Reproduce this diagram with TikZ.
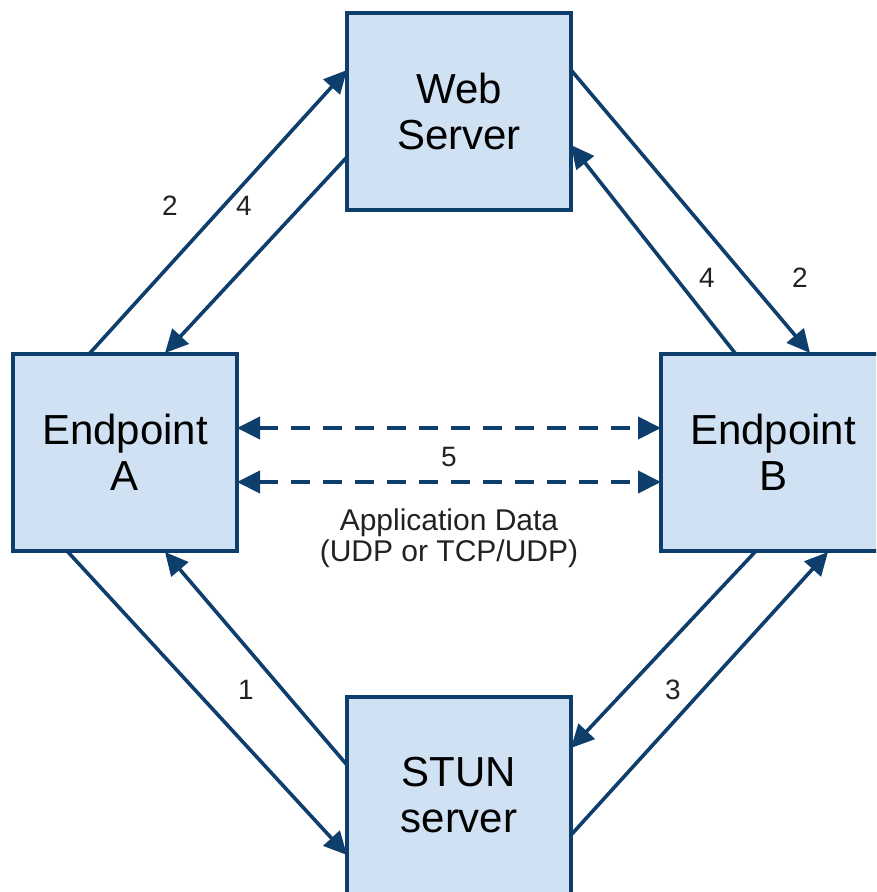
\documentclass[tikz,border=0pt]{standalone}
\usepackage{fontspec}
\setmainfont{Liberation Sans}
\usetikzlibrary{arrows.meta}
\definecolor{lineblue}{HTML}{0E3F6C}
\definecolor{boxfill}{HTML}{CFE1F2}
\definecolor{txtgray}{HTML}{222222}
\tikzset{
  box/.style={draw=lineblue, fill=boxfill, line width=4pt, minimum width=224pt, minimum height=197pt, inner sep=0pt, align=center, font=\fontsize{42}{46}\selectfont},
  conn/.style={draw=lineblue, line width=3.6pt, -{Triangle[length=23pt,width=22pt]}},
  dconn/.style={draw=lineblue, line width=4pt, dash pattern=on 19pt off 13pt, {Triangle[length=23pt,width=22pt]}-{Triangle[length=23pt,width=22pt]}},
  lbl/.style={font=\fontsize{28}{32}\selectfont, inner sep=0pt, text=txtgray},
}
\begin{document}
\begin{tikzpicture}[x=1pt,y=-1pt]
\useasboundingbox (0,0) rectangle (876,892);
\clip (0,0) rectangle (876,892);
\node[box] (web) at (459,111.5) {Web\\Server};
\node[box] (epa) at (125,452) {Endpoint\\A};
\node[box] (epb) at (773,452) {Endpoint\\B};
\node[box] (stun) at (459,795.5) {STUN\\server};
% anchor points on borders
\coordinate (aT1) at (90,353);
\coordinate (aT2) at (165,353);
\coordinate (wL1) at (347,70);
\coordinate (wL2) at (347,157);
\coordinate (wR1) at (571,70);
\coordinate (wR2) at (571,145);
\coordinate (bT1) at (735,353);
\coordinate (bT2) at (810,353);
\coordinate (bB1) at (755,552);
\coordinate (bB2) at (828,552);
\coordinate (sR1) at (571,748);
\coordinate (sR2) at (571,835);
\coordinate (aB1) at (68,552);
\coordinate (aB2) at (165,552);
\coordinate (sL1) at (347,765);
\coordinate (sL2) at (347,855);
\coordinate (aR1) at (237,428);
\coordinate (aR2) at (237,482);
\coordinate (bL1) at (661,428);
\coordinate (bL2) at (661,482);
\draw[conn] (aT1) -- (wL1);
\draw[conn] (wL2) -- (aT2);
\draw[conn] (wR1) -- (bT2);
\draw[conn] (bT1) -- (wR2);
\draw[conn] (bB1) -- (sR1);
\draw[conn] (sR2) -- (bB2);
\draw[conn] (aB1) -- (sL2);
\draw[conn] (sL1) -- (aB2);
\draw[dconn] (aR1) -- (bL1);
\draw[dconn] (aR2) -- (bL2);
\node[lbl] (l2a) at (170,206) {2};
\node[lbl] (l4a) at (244,206) {4};
\node[lbl] (l4b) at (707,278) {4};
\node[lbl] (l2b) at (800,278) {2};
\node[lbl] (l1) at (246,690) {1};
\node[lbl] (l3) at (673,690) {3};
\node[lbl] (l5) at (449,457) {5};
\node[lbl, align=center, font=\fontsize{30}{31}\selectfont] (app) at (449,538) {Application Data\\(UDP or TCP/UDP)};
\end{tikzpicture}
\end{document}
